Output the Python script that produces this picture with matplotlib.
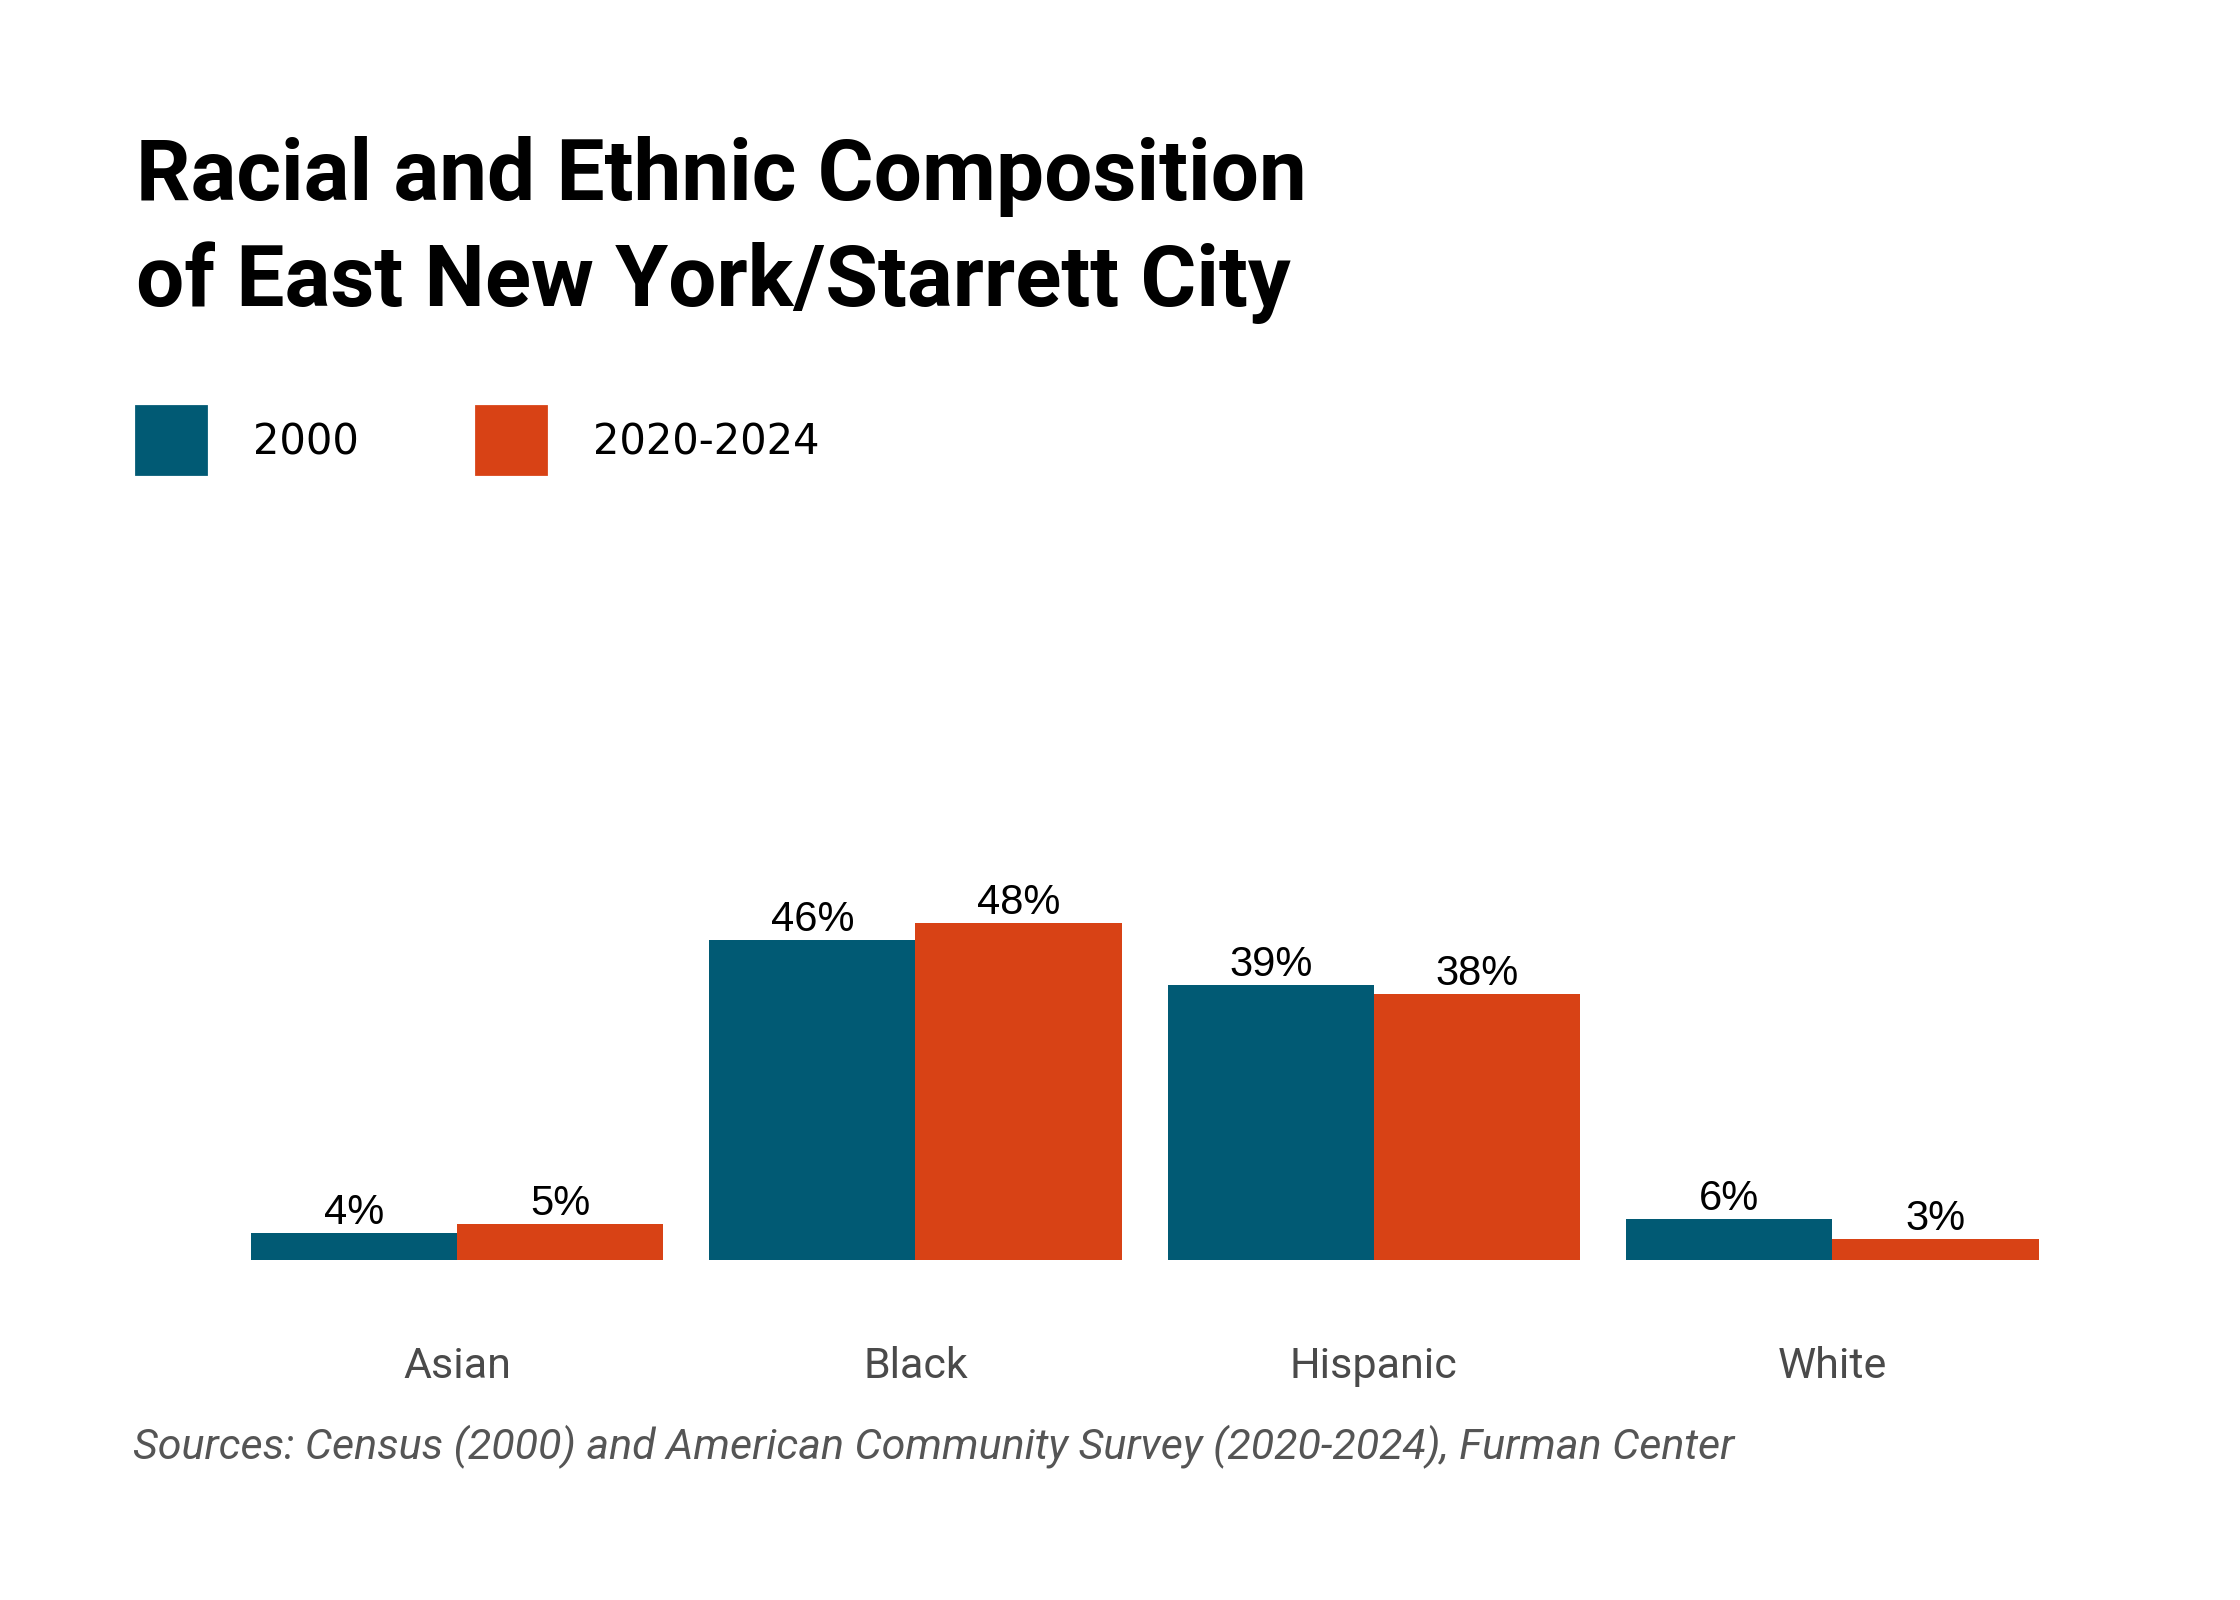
import matplotlib.pyplot as plt
from matplotlib.patches import Rectangle

categories = ["Asian", "Black", "Hispanic", "White"]
series_names = ["2000", "2020-2024"]
values_2000 = [3.9, 45.6, 39.1, 5.9]
values_2024 = [5.1, 48.0, 37.8, 3.0]

blue = "#015a74"
orange = "#d84215"

fig = plt.figure(figsize=(11.2, 8), dpi=200)
fig.patch.set_facecolor("white")

# title
fig.text(0.0606, 0.875, "Racial and Ethnic Composition",
         fontsize=30.8, fontweight="bold", family="Roboto", color="black", va="baseline")
fig.text(0.0606, 0.809, "of East New York/Starrett City",
         fontsize=30.8, fontweight="bold", family="Roboto", color="black", va="baseline")

# legend
for x0, tx, name, c in [(0.0606, 0.1129, series_names[0], blue),
                         (0.2124, 0.2647, series_names[1], orange)]:
    fig.patches.append(Rectangle((x0, 0.7036), 0.0313, 0.0429,
                                 transform=fig.transFigure, color=c, zorder=3))
    fig.text(tx, 0.7232, name, fontsize=15, family="DejaVu Sans", va="center", color="black")

ax = fig.add_axes([0.1017, 0.2125, 0.8186, 0.2634])
x = range(len(categories))
w = 0.45
b1 = ax.bar([i - w / 2 for i in x], values_2000, width=w, color=blue)
b2 = ax.bar([i + w / 2 for i in x], values_2024, width=w, color=orange)

for bars in (b1, b2):
    for bar in bars:
        h = bar.get_height()
        ax.annotate(f"{h:.0f}%", (bar.get_x() + bar.get_width() / 2, h),
                    xytext=(0, 0), textcoords="offset points",
                    ha="center", va="bottom", fontsize=15,
                    family="Liberation Sans", color="black")

ax.set_xlim(-0.5, 3.5)
ax.set_ylim(0, 60)
ax.set_xticks(list(x))
ax.set_xticklabels(categories, fontsize=15.5, family="Roboto", color="#4a4a4a")
ax.tick_params(axis="x", length=0, pad=31)
ax.set_yticks([])
for s in ax.spines.values():
    s.set_visible(False)

fig.text(0.0593, 0.0955,
         "Sources: Census (2000) and American Community Survey (2020-2024), Furman Center",
         fontsize=15.5, family="Roboto", style="italic",
         color="#555555", va="center")

fig.savefig("out.png", dpi=200, facecolor="white")
